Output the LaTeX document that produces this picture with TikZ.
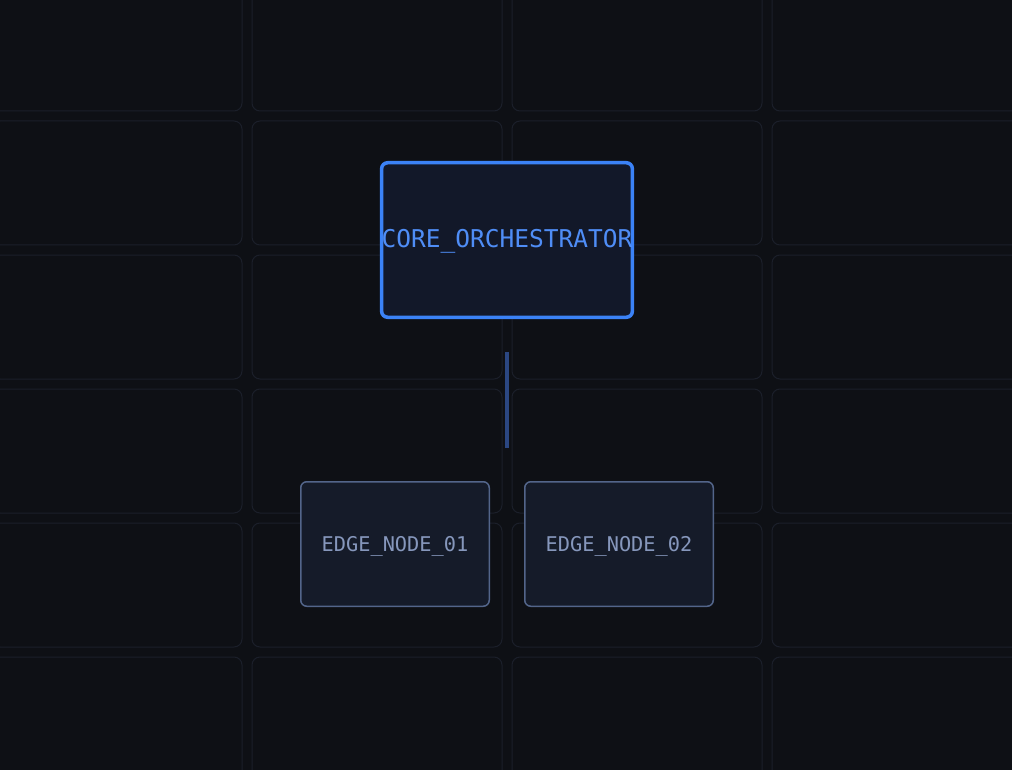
\documentclass[tikz,border=0pt]{standalone}
\usepackage{fontspec}
\setmonofont{DejaVu Sans Mono}
\usetikzlibrary{positioning}
\definecolor{pageBg}{HTML}{0E1015}
\definecolor{cellLine}{HTML}{1B1F2A}
\definecolor{coreBlue}{HTML}{3B82F6}
\definecolor{coreText}{HTML}{4F8DF6}
\definecolor{coreFill}{HTML}{121829}
\definecolor{busBlue}{HTML}{2B4782}
\definecolor{edgeLine}{HTML}{53658A}
\definecolor{edgeFill}{HTML}{151B29}
\definecolor{edgeText}{HTML}{8697BC}
\tikzset{
  cell/.style={draw=cellLine, line width=1pt, rounded corners=8pt},
  corebox/.style={draw=coreBlue, fill=coreFill, line width=3.5pt, rounded corners=6pt,
    minimum width=250.5pt, minimum height=154.5pt, inner sep=0pt,
    text=coreText, font=\ttfamily\fontsize{24.5}{24.5}\selectfont,
    text height=0.73em+8pt, text depth=0pt},
  edgebox/.style={draw=edgeLine, fill=edgeFill, line width=1.5pt, rounded corners=6pt,
    minimum width=188.5pt, minimum height=124.5pt, inner sep=0pt,
    text=edgeText, font=\ttfamily\fontsize{20.3}{20.3}\selectfont,
    text height=0.73em+8pt, text depth=0pt},
  bus/.style={draw=busBlue, line width=4pt}
}

\begin{document}
\begin{tikzpicture}[x=1pt,y=-1pt]
  \fill [pageBg] (0,0) rectangle (1012,770);
  \useasboundingbox (0,0) rectangle (1012,770);
  \foreach \c in {0,...,3}{
    \foreach \r in {0,...,5}{
      \draw [cell] (-8+260*\c,-13+134*\r) rectangle ++(250,124);
    }
  }

  \node [corebox] (core) at (507,240) {CORE\_ORCHESTRATOR};
  \node [edgebox] (edgeA) at (395,544) {EDGE\_NODE\_01};
  \node [edgebox] (edgeB) at (619,544) {EDGE\_NODE\_02};

  \coordinate (busTop) at (507,352);
  \coordinate (busEnd) at (507,448);
  \draw [bus] (busTop) -- (busEnd);
\end{tikzpicture}
\end{document}
